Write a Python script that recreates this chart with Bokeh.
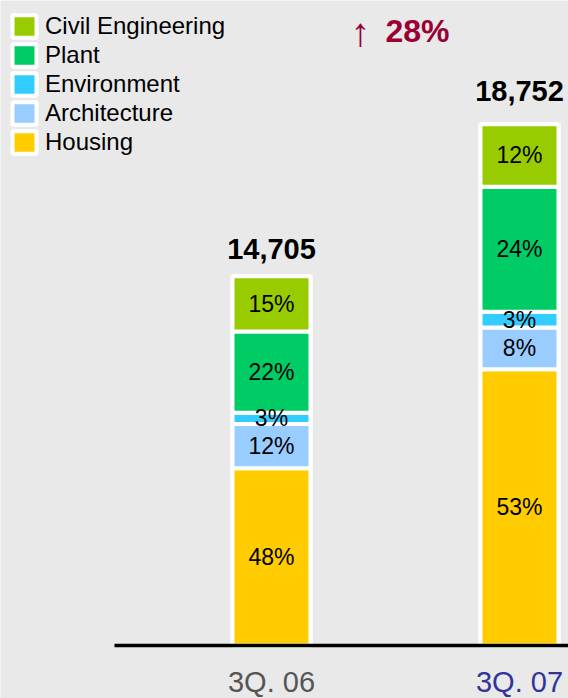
from bokeh.plotting import figure
from bokeh.models import Range1d, Legend, LegendItem
from bokeh.core.properties import value
from bokeh.embed import file_html
from bokeh.resources import INLINE

# ---------------- data ----------------
periods = ["3Q. 06", "3Q. 07"]
totals = [14705, 18752]
housing = [48, 53]
architecture = [12, 8]
environment = [3, 3]
plant = [22, 24]
civil_engineering = [15, 12]
growth = "28%"

# bottom -> top stacking order
series_names = ["Housing", "Architecture", "Environment", "Plant", "Civil Engineering"]
series_values = [housing, architecture, environment, plant, civil_engineering]

# ---------------- styles / layout ----------------
FONT_NAME = "Liberation Sans"
FONT = value(FONT_NAME)
BG = "#e9e9e9"
series_colors = ["#ffcc00", "#99ccff", "#33ccff", "#00cc66", "#99cc00"]
period_colors = ["#555555", "#333399"]
GROWTH_COLOR = "#990033"

W, H = 568, 698
X_POS = [0, 1]
X_START, X_END = -1.0927, 1.1976
Y_START, Y_END = 3461, 22045.5
BASE = 4872          # value at which the bars' baseline is drawn
BAR_W = 0.3145
KX = W / (X_END - X_START)
KY = H / (Y_END - Y_START)


def dx(px):
    return X_START + px / KX


def dy(px_from_top):
    return Y_END - px_from_top / KY


p = figure(width=W, height=H, x_range=Range1d(X_START, X_END), y_range=Range1d(Y_START, Y_END),
           output_backend="svg", toolbar_location=None, min_border=0,
           x_axis_type=None, y_axis_type=None,
           background_fill_color=BG, border_fill_color=BG, outline_line_color=None)
p.grid.visible = False

# white underlay for each full bar
p.vbar(x=X_POS, bottom=BASE, top=totals, width=BAR_W, fill_color="white",
       line_color="white", line_width=4)

renderers = {}
label_x, label_y, label_t = [], [], []
cum = [0.0, 0.0]
for name, vals, col in zip(series_names, series_values, series_colors):
    bottoms = [BASE + c / 100 * (t - BASE) for c, t in zip(cum, totals)]
    cum = [c + v for c, v in zip(cum, vals)]
    tops = [BASE + c / 100 * (t - BASE) for c, t in zip(cum, totals)]
    r = p.vbar(x=X_POS, bottom=bottoms, top=tops, width=BAR_W, fill_color=col,
               line_color="white", line_width=4)
    renderers[name] = r
    for x, b, t, v in zip(X_POS, bottoms, tops, vals):
        label_x.append(x)
        label_y.append((b + t) / 2)
        label_t.append(f"{v}%")

p.text(x=label_x, y=label_y, text=label_t, text_font=FONT, text_font_size="23px",
       text_align="center", text_baseline="middle", text_color="black")

# totals above bars
p.text(x=X_POS, y=totals, text=[f"{t:,}" for t in totals], y_offset=[-27, -33],
       text_font=FONT, text_font_size="29px", text_font_style="bold",
       text_align="center", text_baseline="middle", text_color="black")

# baseline
p.segment(x0=dx(114), y0=BASE, x1=X_END, y1=BASE, line_color="black", line_width=3.5)

# category labels
p.text(x=X_POS, y=[dy(681), dy(681)], text=periods, text_color=period_colors,
       text_font=FONT, text_font_size="29px", text_align="center", text_baseline="middle")

# growth annotation
p.text(x=[dx(360)], y=[dy(31)], text=["\u2191"], text_color=GROWTH_COLOR, text_font=FONT,
       text_font_size="40px", text_align="center", text_baseline="middle")
p.text(x=[dx(385)], y=[dy(30)], text=[growth], text_color=GROWTH_COLOR, text_font=FONT,
       text_font_size="32px", text_font_style="bold", text_align="left", text_baseline="middle")

LEG_ROW = 28
LEG_SPACING = 1
leg_height = len(series_names) * LEG_ROW + (len(series_names) - 1) * LEG_SPACING
legend = Legend(items=[LegendItem(label=n, renderers=[renderers[n]]) for n in reversed(series_names)],
                location=(9, H - 11.5 - leg_height), margin=0, padding=0, spacing=LEG_SPACING,
                glyph_width=30, glyph_height=LEG_ROW, label_standoff=6, label_height=24,
                label_text_font=FONT_NAME, label_text_font_size="24px", label_text_color="black",
                border_line_color=None, background_fill_alpha=0)
p.add_layout(legend)

open("out.html", "w").write(file_html(p, INLINE))
